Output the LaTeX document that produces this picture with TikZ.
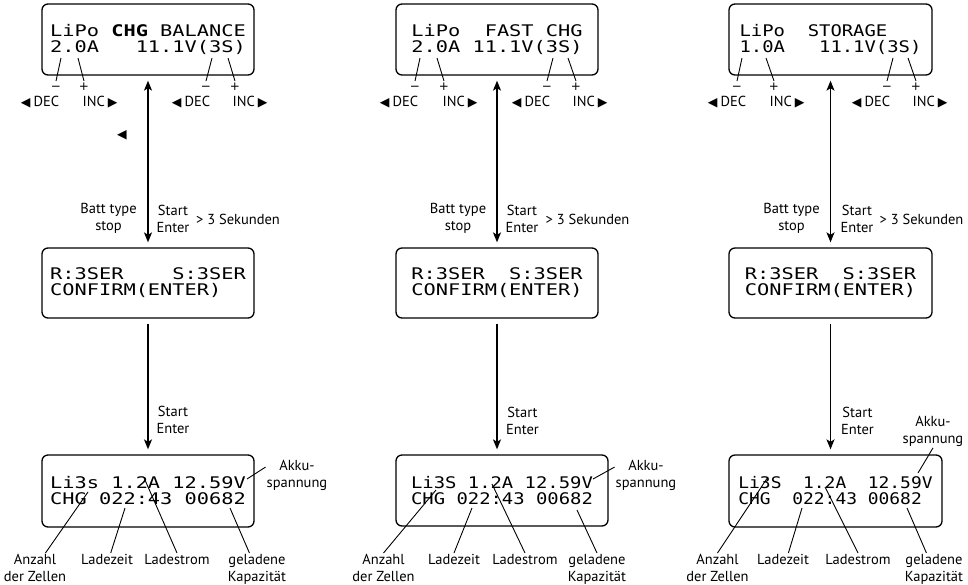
\documentclass[tikz,border=0pt]{standalone}
\usepackage{fontspec}
\setmainfont{PT Sans}
\newfontfamily\lcdfont[FakeStretch=1.27]{DejaVu Sans Mono}
\newfontfamily\lcdmid[FakeStretch=1.18]{DejaVu Sans Mono}
\newfontfamily\lcdnarrow[FakeStretch=1.12]{DejaVu Sans Mono}
\newfontfamily\trifont{DejaVu Sans}
\usetikzlibrary{arrows.meta}
\newcommand{\decl}{{\trifont\fontsize{12.5}{12.5}\selectfont ◀}\hspace{3pt}DEC}
\newcommand{\incl}{INC\hspace{3pt}{\trifont\fontsize{12.5}{12.5}\selectfont ▶}}
\tikzset{
  lcd/.style={
    draw=black, line width=1.3pt, rounded corners=6pt,
    align=left, inner sep=0pt, minimum height=71pt,
    font=\lcdfont\fontsize{16}{16}\selectfont
  },
  lcdm/.style={lcd, font=\lcdmid\fontsize{16}{16}\selectfont},
  lcdn/.style={lcd, font=\lcdnarrow\fontsize{16}{16}\selectfont},
  lbl/.style={font=\fontsize{14.5}{17}\selectfont, align=center, inner sep=1pt},
  sgn/.style={font=\trifont\fontsize{12}{12}\selectfont, inner sep=0.5pt,
    text height=8.5pt, text depth=0pt, anchor=north},
  ptr/.style={line width=0.9pt},
  arr/.style={-{Stealth[length=10pt,width=8pt,inset=2.5pt]}, line width=1.4pt,
    shorten >=5pt, shorten <=5pt},
  dbl/.style={arr, {Stealth[length=10pt,width=8pt,inset=2.5pt]}-{Stealth[length=10pt,width=8pt,inset=2.5pt]}}
}
\begin{document}
\begin{tikzpicture}[x=1pt, y=-1pt]
  \useasboundingbox (0,0) rectangle (968,584);
  % displays
  \node[lcd, minimum width=212pt] (top1) at (148,39.5) {LiPo~\textbf{CHG}~BALANCE\\2.0A~~~11.1V(3S)};
  \node[lcd, minimum width=212pt, minimum height=70pt] (cfm1) at (148,283) {R:3SER~~~~S:3SER\\CONFIRM(ENTER)};
  \node[lcd, minimum width=212pt, minimum height=72pt] (run1) at (148,491) {Li3s~1.2A~12.59V\\CHG~022:43~00682};
  \node[lcd, minimum width=202pt] (top2) at (497,39.5) {LiPo~~FAST~CHG\\2.0A~11.1V(3S)};
  \node[lcd, minimum width=202pt, minimum height=70pt] (cfm2) at (497,283) {R:3SER~~S:3SER\\CONFIRM(ENTER)};
  \node[lcdm, minimum width=212pt] (run2) at (502,490.5) {Li3S~1.2A~12.59V\\CHG~022:43~00682};
  \node[lcdm, minimum width=203pt] (top3) at (830.5,39.5) {LiPo~~STORAGE\\1.0A~~~11.1V(3S)};
  \node[lcd, minimum width=203pt, minimum height=70pt] (cfm3) at (830.5,283) {R:3SER~~S:3SER\\CONFIRM(ENTER)};
  \node[lcdn, minimum width=213pt, minimum height=72pt] (run3) at (835.5,491) {Li3S~~1.2A~~12.59V\\CHG~~022:43~00682};

  % flow
  \draw[dbl] (cfm1.north) -- (top1.south);
  \draw[arr] (cfm1.south) -- (cfm1.south |- run1.north);
  \draw[dbl] (cfm2.north) -- (top2.south);
  \draw[arr] (cfm2.south) -- (cfm2.south |- run2.north);
  \draw[dbl] (cfm3.north) -- (top3.south);
  \draw[arr] (cfm3.south) -- (cfm3.south |- run3.north);

  \node[lbl] (batt1) at (108.5,218.5) {Batt type\\stop};
  \node[lbl] (go1) at (173,218.5) {Start\\Enter};
  \node[lbl] (hold1) at (238,219) {> 3 Sekunden};
  \node[lbl] (ent1) at (173,420) {Start\\Enter};
  \node[lbl] (batt2) at (458,218.5) {Batt type\\stop};
  \node[lbl] (go2) at (522,218.5) {Start\\Enter};
  \node[lbl] (hold2) at (587.5,219) {> 3 Sekunden};
  \node[lbl] (ent2) at (522.5,421) {Start\\Enter};
  \node[lbl] (batt3) at (791.5,218.5) {Batt type\\stop};
  \node[lbl] (go3) at (857,218.5) {Start\\Enter};
  \node[lbl] (hold3) at (921.5,219) {> 3 Sekunden};
  \node[lbl] (ent3) at (857.5,420.5) {Start\\Enter};

  % minus / plus pointers
  \foreach \n/\sx/\ex/\s in {1/61/56/−, 2/78/84/+, 3/212/206/−, 4/228/235/+,
      5/420/415/−, 6/437/444/+, 7/553/547/−, 8/568/576/+,
      9/742/737/−, 10/766/774/+, 11/893/887/−, 12/908/916/+} {
    \coordinate (k\n) at (\sx,58);
    \node[sgn] (s\n) at (\ex,81) {\s};
    \draw[ptr] (k\n) -- (s\n.north);
  }
  \foreach \n/\x/\t in {1/40/\decl, 2/100/\incl, 3/191/\decl, 4/250/\incl,
      5/399/\decl, 6/460/\incl, 7/531/\decl, 8/590/\incl,
      9/727/\decl, 10/787/\incl, 11/871/\decl, 12/930/\incl}
    \node[lbl] (key\n) at (\x,102) {\t};
  \node[lbl, font=\trifont\fontsize{12.5}{12.5}\selectfont] (tri1) at (122,135) {◀};

  % readout notes, column 1
  \coordinate (v1) at (247,479);
  \coordinate (z1) at (88,492);
  \coordinate (t1) at (125,508);
  \coordinate (i1) at (145,480);
  \coordinate (q1) at (230,508);
  \node[lbl] (akku1) at (297,475.5) {Akku-\\spannung};
  \node[lbl, anchor=north] (cells1) at (35,553) {Anzahl\\der Zellen};
  \node[lbl, anchor=north] (time1) at (107,553) {Ladezeit};
  \node[lbl, anchor=north] (amps1) at (177,553) {Ladestrom};
  \node[lbl, anchor=north] (cap1) at (257,553) {geladene\\Kapazität};
  \draw[ptr] (v1) -- (akku1.165);
  \draw[ptr] (z1) -- (cells1.55);
  \draw[ptr] (t1) -- (time1.60);
  \draw[ptr] (i1) -- (amps1.north);
  \draw[ptr] (q1) -- (cap1.115);

  % readout notes, column 2
  \coordinate (v2) at (593,479);
  \coordinate (z2) at (436,490);
  \coordinate (t2) at (472,508);
  \coordinate (i2) at (492,484);
  \coordinate (q2) at (577,510);
  \node[lbl] (akku2) at (646,475.5) {Akku-\\spannung};
  \node[lbl, anchor=north] (cells2) at (383.5,553) {Anzahl\\der Zellen};
  \node[lbl, anchor=north] (time2) at (454,553) {Ladezeit};
  \node[lbl, anchor=north] (amps2) at (525,553) {Ladestrom};
  \node[lbl, anchor=north] (cap2) at (597,553) {geladene\\Kapazität};
  \draw[ptr] (v2) -- (akku2.165);
  \draw[ptr] (z2) -- (cells2.north);
  \draw[ptr] (t2) -- (time2.north);
  \draw[ptr] (i2) -- (amps2.north);
  \draw[ptr] (q2) -- (cap2.north);

  % readout notes, column 3
  \coordinate (v3) at (918,473);
  \coordinate (z3) at (768,477);
  \coordinate (t3) at (802,508);
  \coordinate (i3) at (825,487);
  \coordinate (q3) at (907,508);
  \node[lbl] (akku3) at (933,431.5) {Akku-\\spannung};
  \node[lbl, anchor=north] (cells3) at (717.5,553) {Anzahl\\der Zellen};
  \node[lbl, anchor=north] (time3) at (783,553) {Ladezeit};
  \node[lbl, anchor=north] (amps3) at (858,553) {Ladestrom};
  \node[lbl, anchor=north] (cap3) at (934,553) {geladene\\Kapazität};
  \draw[ptr] (v3) -- (akku3.south);
  \draw[ptr] (z3) -- (cells3.north);
  \draw[ptr] (t3) -- (time3.50);
  \draw[ptr] (i3) -- (amps3.north);
  \draw[ptr] (q3) -- (cap3.115);
\end{tikzpicture}
\end{document}
